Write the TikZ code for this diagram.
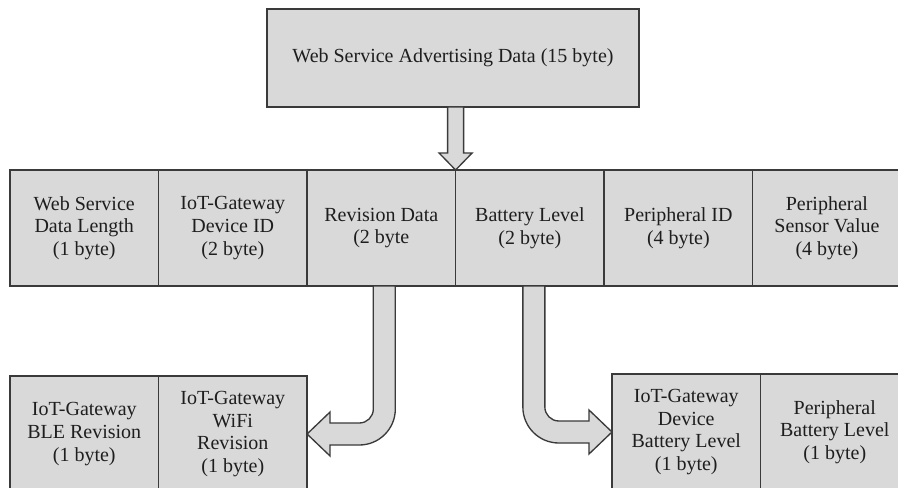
\documentclass[tikz,border=0pt]{standalone}
\usepackage{fontspec}
\setmainfont{Liberation Serif}
\usetikzlibrary{positioning}
\usetikzlibrary{calc}
\definecolor{boxgray}{RGB}{217,217,217}
\definecolor{edgegray}{RGB}{58,58,58}
\definecolor{inkgray}{RGB}{30,30,30}

\begin{document}
\begin{tikzpicture}[x=0.75pt,y=-0.75pt,
  cell/.style={draw=edgegray,fill=boxgray,line width=1pt,outer sep=0pt,inner sep=0pt,
    minimum width=111.4pt,minimum height=87pt,align=center,text=inkgray,
    font=\fontsize{15}{17}\selectfont},
  blockarrow/.style={draw=edgegray,fill=boxgray,line width=1pt,line join=miter}]

\useasboundingbox[fill=white] (0,0) rectangle (898,488);

\node[cell,minimum width=279pt,minimum height=73.5pt] (adv) at (453,58) {Web Service Advertising Data (15 byte)};

\node[cell] (len) at (84.25,228) {Web Service\\Data Length\\(1 byte)};
\node[cell,right=0pt of len] (gwid) {IoT-Gateway\\Device ID\\(2 byte)};
\node[cell,right=0pt of gwid] (rev) {Revision Data\\(2 byte};
\node[cell,right=0pt of rev] (bat) {Battery Level\\(2 byte)};
\node[cell,right=0pt of bat] (pid) {Peripheral ID\\(4 byte)};
\node[cell,right=0pt of pid] (psv) {Peripheral\\Sensor Value\\(4 byte)};

\node[cell] (ble) at (84.25,434) {IoT-Gateway\\BLE Revision\\(1 byte)};
\node[cell,right=0pt of ble] (wifi) {IoT-Gateway\\WiFi\\Revision\\(1 byte)};
\node[cell] (dbat) at (686.25,432) {IoT-Gateway\\Device\\Battery Level\\(1 byte)};
\node[cell,right=0pt of dbat] (pbat) {Peripheral\\Battery Level\\(1 byte)};

\draw[blockarrow] ($(rev.north east |- adv.south)+(-8,0)$) -- ++(0,46) -- ++(-8.5,0) -- (rev.north east)
  -- ++(16.5,-17) -- ++(-8.5,0) -- ++(0,-46) -- cycle;

\draw[blockarrow] ($(rev.south)+(14,0)$) -- ($(rev.south |- wifi.east)+(14,-25)$)
  arc[start angle=0,end angle=90,radius=36] -- ($(wifi.east)+(23,11)$) -- ++(0,11) -- (wifi.east)
  -- ++(23,-22) -- ++(0,11) -- ($(rev.south |- wifi.east)+(-22,-11)$)
  arc[start angle=90,end angle=0,radius=14] -- ($(rev.south)+(-8,0)$) -- cycle;

\draw[blockarrow] ($(bat.south)+(15,0)$) -- ($(bat.south |- dbat.west)+(15,-25)$)
  arc[start angle=180,end angle=90,radius=14] -- ($(dbat.west)+(-23,-11)$) -- ++(0,-11) -- (dbat.west)
  -- ++(-23,22) -- ++(0,-11) -- ($(bat.south |- dbat.west)+(29,11)$)
  arc[start angle=90,end angle=180,radius=36] -- ($(bat.south)+(-7,0)$) -- cycle;
\end{tikzpicture}
\end{document}
